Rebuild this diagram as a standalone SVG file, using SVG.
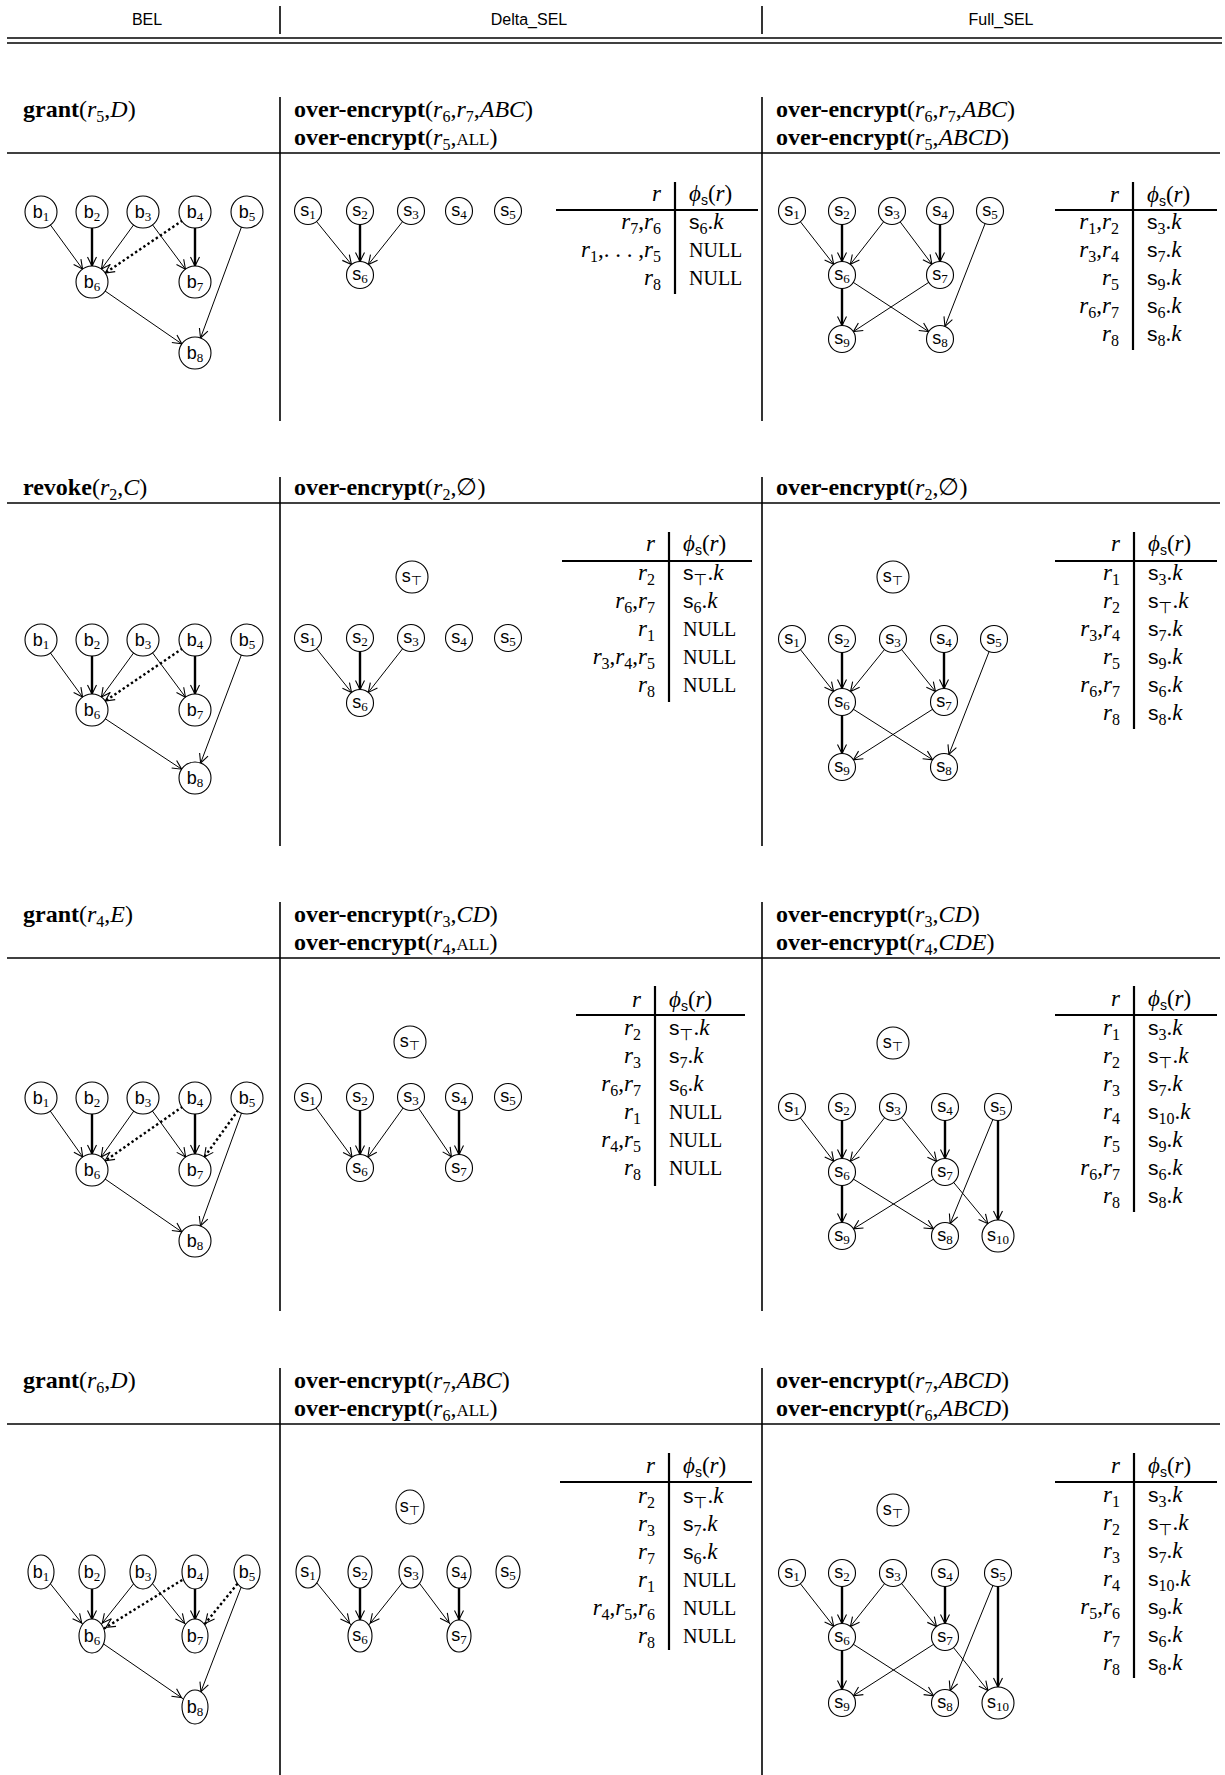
<svg xmlns="http://www.w3.org/2000/svg" width="1225" height="1775" viewBox="0 0 1225 1775">
<defs>
<style>
.ln{stroke:#000;stroke-width:1.6;fill:none}
.tv{stroke:#000;stroke-width:2.2}
.th{stroke:#000;stroke-width:1.8}
.e{stroke:#000;stroke-width:1;fill:none}
.k{stroke-width:2.4}
.d{stroke-width:2.4;stroke-dasharray:2.4 2.6}
.n{fill:#fff;stroke:#000;stroke-width:1.1}
.hd{font-family:"Liberation Sans",sans-serif;font-size:16px;text-anchor:middle}
.lb{font-family:"Liberation Serif","DejaVu Serif",serif;font-size:24px}
.bf{font-weight:bold}
.it{font-style:italic}
.sb{font-size:16px;baseline-shift:-5px}
.sc{font-size:17px}
.nt{font-family:"Liberation Sans",sans-serif;font-size:18px;text-anchor:middle}
.ns{font-family:"Liberation Serif",serif;font-size:13px;baseline-shift:-3px}
.tp{font-family:"DejaVu Sans",sans-serif}
.tt{font-family:"Liberation Serif","DejaVu Serif",serif;font-size:23px}
.tr{text-anchor:end}
.ss{font-family:"Liberation Sans",sans-serif;font-size:21px}
.sx{font-family:"Liberation Sans",sans-serif;font-size:14px;baseline-shift:-4px}
.nu{font-size:20px}
</style>
<marker id="ab" markerUnits="userSpaceOnUse" orient="auto" refX="16" refY="0" markerWidth="30" markerHeight="30" overflow="visible"><path d="M-9,-4.5 L0,0 L-9,4.5" fill="none" stroke="#000" stroke-width="1.1"/></marker>
<marker id="as" markerUnits="userSpaceOnUse" orient="auto" refX="13.5" refY="0" markerWidth="30" markerHeight="30" overflow="visible"><path d="M-9,-4.5 L0,0 L-9,4.5" fill="none" stroke="#000" stroke-width="1.1"/></marker>
<marker id="ae" markerUnits="userSpaceOnUse" orient="auto" refX="16.5" refY="0" markerWidth="30" markerHeight="30" overflow="visible"><path d="M-9,-4.5 L0,0 L-9,4.5" fill="none" stroke="#000" stroke-width="1.1"/></marker>
</defs>
<rect width="1225" height="1775" fill="#fff"/>

<g id="header">
<text class="hd" x="147" y="25">BEL</text>
<text class="hd" x="529" y="25">Delta_SEL</text>
<text class="hd" x="1001" y="25">Full_SEL</text>
<line class="ln" x1="280" y1="6" x2="280" y2="34"/>
<line class="ln" x1="762" y1="6" x2="762" y2="34"/>
<line class="ln" x1="7" y1="38" x2="1222" y2="38"/>
<line class="ln" x1="7" y1="43" x2="1222" y2="43"/>
</g>

<g id="grid">
<line class="ln" x1="7" y1="153" x2="1220" y2="153"/>
<line class="ln" x1="280" y1="97" x2="280" y2="421"/>
<line class="ln" x1="762" y1="97" x2="762" y2="421"/>
<line class="ln" x1="7" y1="503" x2="1220" y2="503"/>
<line class="ln" x1="280" y1="477" x2="280" y2="846"/>
<line class="ln" x1="762" y1="477" x2="762" y2="846"/>
<line class="ln" x1="7" y1="958" x2="1220" y2="958"/>
<line class="ln" x1="280" y1="902" x2="280" y2="1311"/>
<line class="ln" x1="762" y1="902" x2="762" y2="1311"/>
<line class="ln" x1="7" y1="1424" x2="1220" y2="1424"/>
<line class="ln" x1="280" y1="1368" x2="280" y2="1775"/>
<line class="ln" x1="762" y1="1368" x2="762" y2="1775"/>
</g>

<g id="labels">
<text class="lb" x="23" y="117"><tspan class="bf">grant</tspan>(<tspan class="it">r</tspan><tspan class="sb">5</tspan>,<tspan class="it">D</tspan>)</text>
<text class="lb" x="294" y="117"><tspan class="bf">over-encrypt</tspan>(<tspan class="it">r</tspan><tspan class="sb">6</tspan>,<tspan class="it">r</tspan><tspan class="sb">7</tspan>,<tspan class="it">ABC</tspan>)</text>
<text class="lb" x="294" y="145"><tspan class="bf">over-encrypt</tspan>(<tspan class="it">r</tspan><tspan class="sb">5</tspan>,<tspan class="sc">ALL</tspan>)</text>
<text class="lb" x="776" y="117"><tspan class="bf">over-encrypt</tspan>(<tspan class="it">r</tspan><tspan class="sb">6</tspan>,<tspan class="it">r</tspan><tspan class="sb">7</tspan>,<tspan class="it">ABC</tspan>)</text>
<text class="lb" x="776" y="145"><tspan class="bf">over-encrypt</tspan>(<tspan class="it">r</tspan><tspan class="sb">5</tspan>,<tspan class="it">ABCD</tspan>)</text>

<text class="lb" x="23" y="495"><tspan class="bf">revoke</tspan>(<tspan class="it">r</tspan><tspan class="sb">2</tspan>,<tspan class="it">C</tspan>)</text>
<text class="lb" x="294" y="495"><tspan class="bf">over-encrypt</tspan>(<tspan class="it">r</tspan><tspan class="sb">2</tspan>,∅)</text>
<text class="lb" x="776" y="495"><tspan class="bf">over-encrypt</tspan>(<tspan class="it">r</tspan><tspan class="sb">2</tspan>,∅)</text>

<text class="lb" x="23" y="922"><tspan class="bf">grant</tspan>(<tspan class="it">r</tspan><tspan class="sb">4</tspan>,<tspan class="it">E</tspan>)</text>
<text class="lb" x="294" y="922"><tspan class="bf">over-encrypt</tspan>(<tspan class="it">r</tspan><tspan class="sb">3</tspan>,<tspan class="it">CD</tspan>)</text>
<text class="lb" x="294" y="950"><tspan class="bf">over-encrypt</tspan>(<tspan class="it">r</tspan><tspan class="sb">4</tspan>,<tspan class="sc">ALL</tspan>)</text>
<text class="lb" x="776" y="922"><tspan class="bf">over-encrypt</tspan>(<tspan class="it">r</tspan><tspan class="sb">3</tspan>,<tspan class="it">CD</tspan>)</text>
<text class="lb" x="776" y="950"><tspan class="bf">over-encrypt</tspan>(<tspan class="it">r</tspan><tspan class="sb">4</tspan>,<tspan class="it">CDE</tspan>)</text>

<text class="lb" x="23" y="1388"><tspan class="bf">grant</tspan>(<tspan class="it">r</tspan><tspan class="sb">6</tspan>,<tspan class="it">D</tspan>)</text>
<text class="lb" x="294" y="1388"><tspan class="bf">over-encrypt</tspan>(<tspan class="it">r</tspan><tspan class="sb">7</tspan>,<tspan class="it">ABC</tspan>)</text>
<text class="lb" x="294" y="1416"><tspan class="bf">over-encrypt</tspan>(<tspan class="it">r</tspan><tspan class="sb">6</tspan>,<tspan class="sc">ALL</tspan>)</text>
<text class="lb" x="776" y="1388"><tspan class="bf">over-encrypt</tspan>(<tspan class="it">r</tspan><tspan class="sb">7</tspan>,<tspan class="it">ABCD</tspan>)</text>
<text class="lb" x="776" y="1416"><tspan class="bf">over-encrypt</tspan>(<tspan class="it">r</tspan><tspan class="sb">6</tspan>,<tspan class="it">ABCD</tspan>)</text>
</g>

<g id="connectors">
<line class="e" x1="41" y1="212" x2="92" y2="282" marker-end="url(#ab)"/>
<line class="e k" x1="92" y1="212" x2="92" y2="282" marker-end="url(#ab)"/>
<line class="e" x1="143" y1="212" x2="92" y2="282" marker-end="url(#ab)"/>
<line class="e" x1="143" y1="212" x2="195" y2="282" marker-end="url(#ab)"/>
<line class="e d" x1="195" y1="212" x2="92" y2="282" marker-end="url(#ab)"/>
<line class="e k" x1="195" y1="212" x2="195" y2="282" marker-end="url(#ab)"/>
<line class="e" x1="247" y1="212" x2="195" y2="353" marker-end="url(#ab)"/>
<line class="e" x1="92" y1="282" x2="195" y2="353" marker-end="url(#ab)"/>
<line class="e" x1="308" y1="211" x2="360" y2="275" marker-end="url(#as)"/>
<line class="e k" x1="360" y1="211" x2="360" y2="275" marker-end="url(#as)"/>
<line class="e" x1="411" y1="211" x2="360" y2="275" marker-end="url(#as)"/>
<line class="e" x1="792" y1="211" x2="842" y2="275" marker-end="url(#as)"/>
<line class="e k" x1="842" y1="211" x2="842" y2="275" marker-end="url(#as)"/>
<line class="e" x1="892" y1="211" x2="842" y2="275" marker-end="url(#as)"/>
<line class="e" x1="892" y1="211" x2="940" y2="275" marker-end="url(#as)"/>
<line class="e k" x1="940" y1="211" x2="940" y2="275" marker-end="url(#as)"/>
<line class="e" x1="990" y1="211" x2="940" y2="339" marker-end="url(#as)"/>
<line class="e k" x1="842" y1="275" x2="842" y2="339" marker-end="url(#as)"/>
<line class="e" x1="842" y1="275" x2="940" y2="339" marker-end="url(#as)"/>
<line class="e" x1="940" y1="275" x2="842" y2="339" marker-end="url(#as)"/>

<line class="e" x1="41" y1="640" x2="92" y2="710" marker-end="url(#ab)"/>
<line class="e k" x1="92" y1="640" x2="92" y2="710" marker-end="url(#ab)"/>
<line class="e" x1="143" y1="640" x2="92" y2="710" marker-end="url(#ab)"/>
<line class="e" x1="143" y1="640" x2="195" y2="710" marker-end="url(#ab)"/>
<line class="e d" x1="195" y1="640" x2="92" y2="710" marker-end="url(#ab)"/>
<line class="e k" x1="195" y1="640" x2="195" y2="710" marker-end="url(#ab)"/>
<line class="e" x1="247" y1="640" x2="195" y2="778" marker-end="url(#ab)"/>
<line class="e" x1="92" y1="710" x2="195" y2="778" marker-end="url(#ab)"/>
<line class="e" x1="308" y1="638" x2="360" y2="703" marker-end="url(#as)"/>
<line class="e k" x1="360" y1="638" x2="360" y2="703" marker-end="url(#as)"/>
<line class="e" x1="411" y1="638" x2="360" y2="703" marker-end="url(#as)"/>
<line class="e" x1="792" y1="639" x2="842" y2="702" marker-end="url(#as)"/>
<line class="e k" x1="842" y1="639" x2="842" y2="702" marker-end="url(#as)"/>
<line class="e" x1="893" y1="639" x2="842" y2="702" marker-end="url(#as)"/>
<line class="e" x1="893" y1="639" x2="944" y2="702" marker-end="url(#as)"/>
<line class="e k" x1="944" y1="639" x2="944" y2="702" marker-end="url(#as)"/>
<line class="e" x1="994" y1="639" x2="944" y2="767" marker-end="url(#as)"/>
<line class="e k" x1="842" y1="702" x2="842" y2="767" marker-end="url(#as)"/>
<line class="e" x1="842" y1="702" x2="944" y2="767" marker-end="url(#as)"/>
<line class="e" x1="944" y1="702" x2="842" y2="767" marker-end="url(#as)"/>

<line class="e" x1="41" y1="1098" x2="92" y2="1170" marker-end="url(#ab)"/>
<line class="e k" x1="92" y1="1098" x2="92" y2="1170" marker-end="url(#ab)"/>
<line class="e" x1="143" y1="1098" x2="92" y2="1170" marker-end="url(#ab)"/>
<line class="e" x1="143" y1="1098" x2="195" y2="1170" marker-end="url(#ab)"/>
<line class="e d" x1="195" y1="1098" x2="92" y2="1170" marker-end="url(#ab)"/>
<line class="e k" x1="195" y1="1098" x2="195" y2="1170" marker-end="url(#ab)"/>
<line class="e d" x1="247" y1="1098" x2="195" y2="1170" marker-end="url(#ab)"/>
<line class="e" x1="247" y1="1098" x2="195" y2="1241" marker-end="url(#ab)"/>
<line class="e" x1="92" y1="1170" x2="195" y2="1241" marker-end="url(#ab)"/>
<line class="e" x1="308" y1="1097" x2="360" y2="1168" marker-end="url(#as)"/>
<line class="e k" x1="360" y1="1097" x2="360" y2="1168" marker-end="url(#as)"/>
<line class="e" x1="411" y1="1097" x2="360" y2="1168" marker-end="url(#as)"/>
<line class="e" x1="411" y1="1097" x2="459" y2="1168" marker-end="url(#as)"/>
<line class="e k" x1="459" y1="1097" x2="459" y2="1168" marker-end="url(#as)"/>
<line class="e" x1="792" y1="1107" x2="842" y2="1172" marker-end="url(#as)"/>
<line class="e k" x1="842" y1="1107" x2="842" y2="1172" marker-end="url(#as)"/>
<line class="e" x1="893" y1="1107" x2="842" y2="1172" marker-end="url(#as)"/>
<line class="e" x1="893" y1="1107" x2="945" y2="1172" marker-end="url(#as)"/>
<line class="e k" x1="945" y1="1107" x2="945" y2="1172" marker-end="url(#as)"/>
<line class="e" x1="998" y1="1107" x2="945" y2="1236" marker-end="url(#as)"/>
<line class="e k" x1="998" y1="1107" x2="998" y2="1236" marker-end="url(#ab)"/>
<line class="e k" x1="842" y1="1172" x2="842" y2="1236" marker-end="url(#as)"/>
<line class="e" x1="842" y1="1172" x2="945" y2="1236" marker-end="url(#as)"/>
<line class="e" x1="945" y1="1172" x2="842" y2="1236" marker-end="url(#as)"/>
<line class="e" x1="945" y1="1172" x2="998" y2="1236" marker-end="url(#ab)"/>

<line class="e" x1="41" y1="1572" x2="92" y2="1636" marker-end="url(#ae)"/>
<line class="e k" x1="92" y1="1572" x2="92" y2="1636" marker-end="url(#ae)"/>
<line class="e" x1="143" y1="1572" x2="92" y2="1636" marker-end="url(#ae)"/>
<line class="e" x1="143" y1="1572" x2="195" y2="1636" marker-end="url(#ae)"/>
<line class="e d" x1="195" y1="1572" x2="92" y2="1636" marker-end="url(#ae)"/>
<line class="e k" x1="195" y1="1572" x2="195" y2="1636" marker-end="url(#ae)"/>
<line class="e d" x1="247" y1="1572" x2="195" y2="1636" marker-end="url(#ae)"/>
<line class="e" x1="247" y1="1572" x2="195" y2="1707" marker-end="url(#ae)"/>
<line class="e" x1="92" y1="1636" x2="195" y2="1707" marker-end="url(#ae)"/>
<line class="e" x1="308" y1="1572" x2="360" y2="1636" marker-end="url(#ae)"/>
<line class="e k" x1="360" y1="1572" x2="360" y2="1636" marker-end="url(#ae)"/>
<line class="e" x1="411" y1="1572" x2="360" y2="1636" marker-end="url(#ae)"/>
<line class="e" x1="411" y1="1572" x2="459" y2="1636" marker-end="url(#ae)"/>
<line class="e k" x1="459" y1="1572" x2="459" y2="1636" marker-end="url(#ae)"/>
<line class="e" x1="792" y1="1573" x2="842" y2="1637" marker-end="url(#as)"/>
<line class="e k" x1="842" y1="1573" x2="842" y2="1637" marker-end="url(#as)"/>
<line class="e" x1="893" y1="1573" x2="842" y2="1637" marker-end="url(#as)"/>
<line class="e" x1="893" y1="1573" x2="945" y2="1637" marker-end="url(#as)"/>
<line class="e k" x1="945" y1="1573" x2="945" y2="1637" marker-end="url(#as)"/>
<line class="e" x1="998" y1="1573" x2="945" y2="1703" marker-end="url(#as)"/>
<line class="e k" x1="998" y1="1573" x2="998" y2="1703" marker-end="url(#ab)"/>
<line class="e k" x1="842" y1="1637" x2="842" y2="1703" marker-end="url(#as)"/>
<line class="e" x1="842" y1="1637" x2="945" y2="1703" marker-end="url(#as)"/>
<line class="e" x1="945" y1="1637" x2="842" y2="1703" marker-end="url(#as)"/>
<line class="e" x1="945" y1="1637" x2="998" y2="1703" marker-end="url(#ab)"/>
</g>

<g id="r1-b1"><circle class="n" cx="41" cy="212" r="16"/><text class="nt" x="41" y="218">b<tspan class="ns">1</tspan></text></g>
<g id="r1-b2"><circle class="n" cx="92" cy="212" r="16"/><text class="nt" x="92" y="218">b<tspan class="ns">2</tspan></text></g>
<g id="r1-b3"><circle class="n" cx="143" cy="212" r="16"/><text class="nt" x="143" y="218">b<tspan class="ns">3</tspan></text></g>
<g id="r1-b4"><circle class="n" cx="195" cy="212" r="16"/><text class="nt" x="195" y="218">b<tspan class="ns">4</tspan></text></g>
<g id="r1-b5"><circle class="n" cx="247" cy="212" r="16"/><text class="nt" x="247" y="218">b<tspan class="ns">5</tspan></text></g>
<g id="r1-b6"><circle class="n" cx="92" cy="282" r="16"/><text class="nt" x="92" y="288">b<tspan class="ns">6</tspan></text></g>
<g id="r1-b7"><circle class="n" cx="195" cy="282" r="16"/><text class="nt" x="195" y="288">b<tspan class="ns">7</tspan></text></g>
<g id="r1-b8"><circle class="n" cx="195" cy="353" r="16"/><text class="nt" x="195" y="359">b<tspan class="ns">8</tspan></text></g>
<g id="r1d-s1"><circle class="n" cx="308" cy="211" r="13.5"/><text class="nt" x="308" y="216">s<tspan class="ns">1</tspan></text></g>
<g id="r1d-s2"><circle class="n" cx="360" cy="211" r="13.5"/><text class="nt" x="360" y="216">s<tspan class="ns">2</tspan></text></g>
<g id="r1d-s3"><circle class="n" cx="411" cy="211" r="13.5"/><text class="nt" x="411" y="216">s<tspan class="ns">3</tspan></text></g>
<g id="r1d-s4"><circle class="n" cx="459" cy="211" r="13.5"/><text class="nt" x="459" y="216">s<tspan class="ns">4</tspan></text></g>
<g id="r1d-s5"><circle class="n" cx="508" cy="211" r="13.5"/><text class="nt" x="508" y="216">s<tspan class="ns">5</tspan></text></g>
<g id="r1d-s6"><circle class="n" cx="360" cy="275" r="13.5"/><text class="nt" x="360" y="280">s<tspan class="ns">6</tspan></text></g>
<g id="r1f-s1"><circle class="n" cx="792" cy="211" r="13.5"/><text class="nt" x="792" y="216">s<tspan class="ns">1</tspan></text></g>
<g id="r1f-s2"><circle class="n" cx="842" cy="211" r="13.5"/><text class="nt" x="842" y="216">s<tspan class="ns">2</tspan></text></g>
<g id="r1f-s3"><circle class="n" cx="892" cy="211" r="13.5"/><text class="nt" x="892" y="216">s<tspan class="ns">3</tspan></text></g>
<g id="r1f-s4"><circle class="n" cx="940" cy="211" r="13.5"/><text class="nt" x="940" y="216">s<tspan class="ns">4</tspan></text></g>
<g id="r1f-s5"><circle class="n" cx="990" cy="211" r="13.5"/><text class="nt" x="990" y="216">s<tspan class="ns">5</tspan></text></g>
<g id="r1f-s6"><circle class="n" cx="842" cy="275" r="13.5"/><text class="nt" x="842" y="280">s<tspan class="ns">6</tspan></text></g>
<g id="r1f-s7"><circle class="n" cx="940" cy="275" r="13.5"/><text class="nt" x="940" y="280">s<tspan class="ns">7</tspan></text></g>
<g id="r1f-s9"><circle class="n" cx="842" cy="339" r="13.5"/><text class="nt" x="842" y="344">s<tspan class="ns">9</tspan></text></g>
<g id="r1f-s8"><circle class="n" cx="940" cy="339" r="13.5"/><text class="nt" x="940" y="344">s<tspan class="ns">8</tspan></text></g>

<g id="r2-b1"><circle class="n" cx="41" cy="640" r="16"/><text class="nt" x="41" y="646">b<tspan class="ns">1</tspan></text></g>
<g id="r2-b2"><circle class="n" cx="92" cy="640" r="16"/><text class="nt" x="92" y="646">b<tspan class="ns">2</tspan></text></g>
<g id="r2-b3"><circle class="n" cx="143" cy="640" r="16"/><text class="nt" x="143" y="646">b<tspan class="ns">3</tspan></text></g>
<g id="r2-b4"><circle class="n" cx="195" cy="640" r="16"/><text class="nt" x="195" y="646">b<tspan class="ns">4</tspan></text></g>
<g id="r2-b5"><circle class="n" cx="247" cy="640" r="16"/><text class="nt" x="247" y="646">b<tspan class="ns">5</tspan></text></g>
<g id="r2-b6"><circle class="n" cx="92" cy="710" r="16"/><text class="nt" x="92" y="716">b<tspan class="ns">6</tspan></text></g>
<g id="r2-b7"><circle class="n" cx="195" cy="710" r="16"/><text class="nt" x="195" y="716">b<tspan class="ns">7</tspan></text></g>
<g id="r2-b8"><circle class="n" cx="195" cy="778" r="16"/><text class="nt" x="195" y="784">b<tspan class="ns">8</tspan></text></g>
<g id="r2d-st"><circle class="n" cx="412" cy="577" r="16"/><text class="nt" x="412" y="582">s<tspan class="ns tp">⊤</tspan></text></g>
<g id="r2d-s1"><circle class="n" cx="308" cy="638" r="13.5"/><text class="nt" x="308" y="643">s<tspan class="ns">1</tspan></text></g>
<g id="r2d-s2"><circle class="n" cx="360" cy="638" r="13.5"/><text class="nt" x="360" y="643">s<tspan class="ns">2</tspan></text></g>
<g id="r2d-s3"><circle class="n" cx="411" cy="638" r="13.5"/><text class="nt" x="411" y="643">s<tspan class="ns">3</tspan></text></g>
<g id="r2d-s4"><circle class="n" cx="459" cy="638" r="13.5"/><text class="nt" x="459" y="643">s<tspan class="ns">4</tspan></text></g>
<g id="r2d-s5"><circle class="n" cx="508" cy="638" r="13.5"/><text class="nt" x="508" y="643">s<tspan class="ns">5</tspan></text></g>
<g id="r2d-s6"><circle class="n" cx="360" cy="703" r="13.5"/><text class="nt" x="360" y="708">s<tspan class="ns">6</tspan></text></g>
<g id="r2f-st"><circle class="n" cx="893" cy="577" r="16"/><text class="nt" x="893" y="582">s<tspan class="ns tp">⊤</tspan></text></g>
<g id="r2f-s1"><circle class="n" cx="792" cy="639" r="13.5"/><text class="nt" x="792" y="644">s<tspan class="ns">1</tspan></text></g>
<g id="r2f-s2"><circle class="n" cx="842" cy="639" r="13.5"/><text class="nt" x="842" y="644">s<tspan class="ns">2</tspan></text></g>
<g id="r2f-s3"><circle class="n" cx="893" cy="639" r="13.5"/><text class="nt" x="893" y="644">s<tspan class="ns">3</tspan></text></g>
<g id="r2f-s4"><circle class="n" cx="944" cy="639" r="13.5"/><text class="nt" x="944" y="644">s<tspan class="ns">4</tspan></text></g>
<g id="r2f-s5"><circle class="n" cx="994" cy="639" r="13.5"/><text class="nt" x="994" y="644">s<tspan class="ns">5</tspan></text></g>
<g id="r2f-s6"><circle class="n" cx="842" cy="702" r="13.5"/><text class="nt" x="842" y="707">s<tspan class="ns">6</tspan></text></g>
<g id="r2f-s7"><circle class="n" cx="944" cy="702" r="13.5"/><text class="nt" x="944" y="707">s<tspan class="ns">7</tspan></text></g>
<g id="r2f-s9"><circle class="n" cx="842" cy="767" r="13.5"/><text class="nt" x="842" y="772">s<tspan class="ns">9</tspan></text></g>
<g id="r2f-s8"><circle class="n" cx="944" cy="767" r="13.5"/><text class="nt" x="944" y="772">s<tspan class="ns">8</tspan></text></g>

<g id="r3-b1"><circle class="n" cx="41" cy="1098" r="16"/><text class="nt" x="41" y="1104">b<tspan class="ns">1</tspan></text></g>
<g id="r3-b2"><circle class="n" cx="92" cy="1098" r="16"/><text class="nt" x="92" y="1104">b<tspan class="ns">2</tspan></text></g>
<g id="r3-b3"><circle class="n" cx="143" cy="1098" r="16"/><text class="nt" x="143" y="1104">b<tspan class="ns">3</tspan></text></g>
<g id="r3-b4"><circle class="n" cx="195" cy="1098" r="16"/><text class="nt" x="195" y="1104">b<tspan class="ns">4</tspan></text></g>
<g id="r3-b5"><circle class="n" cx="247" cy="1098" r="16"/><text class="nt" x="247" y="1104">b<tspan class="ns">5</tspan></text></g>
<g id="r3-b6"><circle class="n" cx="92" cy="1170" r="16"/><text class="nt" x="92" y="1176">b<tspan class="ns">6</tspan></text></g>
<g id="r3-b7"><circle class="n" cx="195" cy="1170" r="16"/><text class="nt" x="195" y="1176">b<tspan class="ns">7</tspan></text></g>
<g id="r3-b8"><circle class="n" cx="195" cy="1241" r="16"/><text class="nt" x="195" y="1247">b<tspan class="ns">8</tspan></text></g>
<g id="r3d-st"><circle class="n" cx="410" cy="1042" r="16"/><text class="nt" x="410" y="1047">s<tspan class="ns tp">⊤</tspan></text></g>
<g id="r3d-s1"><circle class="n" cx="308" cy="1097" r="13.5"/><text class="nt" x="308" y="1102">s<tspan class="ns">1</tspan></text></g>
<g id="r3d-s2"><circle class="n" cx="360" cy="1097" r="13.5"/><text class="nt" x="360" y="1102">s<tspan class="ns">2</tspan></text></g>
<g id="r3d-s3"><circle class="n" cx="411" cy="1097" r="13.5"/><text class="nt" x="411" y="1102">s<tspan class="ns">3</tspan></text></g>
<g id="r3d-s4"><circle class="n" cx="459" cy="1097" r="13.5"/><text class="nt" x="459" y="1102">s<tspan class="ns">4</tspan></text></g>
<g id="r3d-s5"><circle class="n" cx="508" cy="1097" r="13.5"/><text class="nt" x="508" y="1102">s<tspan class="ns">5</tspan></text></g>
<g id="r3d-s6"><circle class="n" cx="360" cy="1168" r="13.5"/><text class="nt" x="360" y="1173">s<tspan class="ns">6</tspan></text></g>
<g id="r3d-s7"><circle class="n" cx="459" cy="1168" r="13.5"/><text class="nt" x="459" y="1173">s<tspan class="ns">7</tspan></text></g>
<g id="r3f-st"><circle class="n" cx="893" cy="1043" r="16"/><text class="nt" x="893" y="1048">s<tspan class="ns tp">⊤</tspan></text></g>
<g id="r3f-s1"><circle class="n" cx="792" cy="1107" r="13.5"/><text class="nt" x="792" y="1112">s<tspan class="ns">1</tspan></text></g>
<g id="r3f-s2"><circle class="n" cx="842" cy="1107" r="13.5"/><text class="nt" x="842" y="1112">s<tspan class="ns">2</tspan></text></g>
<g id="r3f-s3"><circle class="n" cx="893" cy="1107" r="13.5"/><text class="nt" x="893" y="1112">s<tspan class="ns">3</tspan></text></g>
<g id="r3f-s4"><circle class="n" cx="945" cy="1107" r="13.5"/><text class="nt" x="945" y="1112">s<tspan class="ns">4</tspan></text></g>
<g id="r3f-s5"><circle class="n" cx="998" cy="1107" r="13.5"/><text class="nt" x="998" y="1112">s<tspan class="ns">5</tspan></text></g>
<g id="r3f-s6"><circle class="n" cx="842" cy="1172" r="13.5"/><text class="nt" x="842" y="1177">s<tspan class="ns">6</tspan></text></g>
<g id="r3f-s7"><circle class="n" cx="945" cy="1172" r="13.5"/><text class="nt" x="945" y="1177">s<tspan class="ns">7</tspan></text></g>
<g id="r3f-s9"><circle class="n" cx="842" cy="1236" r="13.5"/><text class="nt" x="842" y="1241">s<tspan class="ns">9</tspan></text></g>
<g id="r3f-s8"><circle class="n" cx="945" cy="1236" r="13.5"/><text class="nt" x="945" y="1241">s<tspan class="ns">8</tspan></text></g>
<g id="r3f-s10"><circle class="n" cx="998" cy="1236" r="16"/><text class="nt" x="998" y="1241">s<tspan class="ns">10</tspan></text></g>

<g id="r4-b1"><ellipse class="n" cx="41" cy="1572" rx="13" ry="17"/><text class="nt" x="41" y="1578">b<tspan class="ns">1</tspan></text></g>
<g id="r4-b2"><ellipse class="n" cx="92" cy="1572" rx="13" ry="17"/><text class="nt" x="92" y="1578">b<tspan class="ns">2</tspan></text></g>
<g id="r4-b3"><ellipse class="n" cx="143" cy="1572" rx="13" ry="17"/><text class="nt" x="143" y="1578">b<tspan class="ns">3</tspan></text></g>
<g id="r4-b4"><ellipse class="n" cx="195" cy="1572" rx="13" ry="17"/><text class="nt" x="195" y="1578">b<tspan class="ns">4</tspan></text></g>
<g id="r4-b5"><ellipse class="n" cx="247" cy="1572" rx="13" ry="17"/><text class="nt" x="247" y="1578">b<tspan class="ns">5</tspan></text></g>
<g id="r4-b6"><ellipse class="n" cx="92" cy="1636" rx="13" ry="17"/><text class="nt" x="92" y="1642">b<tspan class="ns">6</tspan></text></g>
<g id="r4-b7"><ellipse class="n" cx="195" cy="1636" rx="13" ry="17"/><text class="nt" x="195" y="1642">b<tspan class="ns">7</tspan></text></g>
<g id="r4-b8"><ellipse class="n" cx="195" cy="1707" rx="13" ry="17"/><text class="nt" x="195" y="1713">b<tspan class="ns">8</tspan></text></g>
<g id="r4d-st"><ellipse class="n" cx="410" cy="1507" rx="14" ry="17"/><text class="nt" x="410" y="1512">s<tspan class="ns tp">⊤</tspan></text></g>
<g id="r4d-s1"><ellipse class="n" cx="308" cy="1572" rx="12" ry="16"/><text class="nt" x="308" y="1577">s<tspan class="ns">1</tspan></text></g>
<g id="r4d-s2"><ellipse class="n" cx="360" cy="1572" rx="12" ry="16"/><text class="nt" x="360" y="1577">s<tspan class="ns">2</tspan></text></g>
<g id="r4d-s3"><ellipse class="n" cx="411" cy="1572" rx="12" ry="16"/><text class="nt" x="411" y="1577">s<tspan class="ns">3</tspan></text></g>
<g id="r4d-s4"><ellipse class="n" cx="459" cy="1572" rx="12" ry="16"/><text class="nt" x="459" y="1577">s<tspan class="ns">4</tspan></text></g>
<g id="r4d-s5"><ellipse class="n" cx="508" cy="1572" rx="12" ry="16"/><text class="nt" x="508" y="1577">s<tspan class="ns">5</tspan></text></g>
<g id="r4d-s6"><ellipse class="n" cx="360" cy="1636" rx="12" ry="16"/><text class="nt" x="360" y="1641">s<tspan class="ns">6</tspan></text></g>
<g id="r4d-s7"><ellipse class="n" cx="459" cy="1636" rx="12" ry="16"/><text class="nt" x="459" y="1641">s<tspan class="ns">7</tspan></text></g>
<g id="r4f-st"><circle class="n" cx="893" cy="1510" r="16"/><text class="nt" x="893" y="1515">s<tspan class="ns tp">⊤</tspan></text></g>
<g id="r4f-s1"><circle class="n" cx="792" cy="1573" r="13.5"/><text class="nt" x="792" y="1578">s<tspan class="ns">1</tspan></text></g>
<g id="r4f-s2"><circle class="n" cx="842" cy="1573" r="13.5"/><text class="nt" x="842" y="1578">s<tspan class="ns">2</tspan></text></g>
<g id="r4f-s3"><circle class="n" cx="893" cy="1573" r="13.5"/><text class="nt" x="893" y="1578">s<tspan class="ns">3</tspan></text></g>
<g id="r4f-s4"><circle class="n" cx="945" cy="1573" r="13.5"/><text class="nt" x="945" y="1578">s<tspan class="ns">4</tspan></text></g>
<g id="r4f-s5"><circle class="n" cx="998" cy="1573" r="13.5"/><text class="nt" x="998" y="1578">s<tspan class="ns">5</tspan></text></g>
<g id="r4f-s6"><circle class="n" cx="842" cy="1637" r="13.5"/><text class="nt" x="842" y="1642">s<tspan class="ns">6</tspan></text></g>
<g id="r4f-s7"><circle class="n" cx="945" cy="1637" r="13.5"/><text class="nt" x="945" y="1642">s<tspan class="ns">7</tspan></text></g>
<g id="r4f-s9"><circle class="n" cx="842" cy="1703" r="13.5"/><text class="nt" x="842" y="1708">s<tspan class="ns">9</tspan></text></g>
<g id="r4f-s8"><circle class="n" cx="945" cy="1703" r="13.5"/><text class="nt" x="945" y="1708">s<tspan class="ns">8</tspan></text></g>
<g id="r4f-s10"><circle class="n" cx="998" cy="1703" r="16"/><text class="nt" x="998" y="1708">s<tspan class="ns">10</tspan></text></g>

<g id="t1d" class="tt">
<line class="tv" x1="675" y1="182" x2="675" y2="294"/><line class="th" x1="556" y1="210" x2="758" y2="210"/>
<text class="tr it" x="661" y="201">r</text><text x="689" y="201"><tspan class="it">ϕ</tspan><tspan class="sx">s</tspan>(<tspan class="it">r</tspan>)</text>
<text class="tr" x="661" y="229"><tspan class="it">r</tspan><tspan class="sb">7</tspan>,<tspan class="it">r</tspan><tspan class="sb">6</tspan></text><text x="689" y="229"><tspan class="ss">s</tspan><tspan class="sb">6</tspan>.<tspan class="it">k</tspan></text>
<text class="tr" x="661" y="257"><tspan class="it">r</tspan><tspan class="sb">1</tspan>,. . . ,<tspan class="it">r</tspan><tspan class="sb">5</tspan></text><text class="nu" x="689" y="257">NULL</text>
<text class="tr" x="661" y="285"><tspan class="it">r</tspan><tspan class="sb">8</tspan></text><text class="nu" x="689" y="285">NULL</text>
</g>
<g id="t1f" class="tt">
<line class="tv" x1="1133" y1="182" x2="1133" y2="350"/><line class="th" x1="1055" y1="210" x2="1217" y2="210"/>
<text class="tr it" x="1119" y="202">r</text><text x="1147" y="202"><tspan class="it">ϕ</tspan><tspan class="sx">s</tspan>(<tspan class="it">r</tspan>)</text>
<text class="tr" x="1119" y="229"><tspan class="it">r</tspan><tspan class="sb">1</tspan>,<tspan class="it">r</tspan><tspan class="sb">2</tspan></text><text x="1147" y="229"><tspan class="ss">s</tspan><tspan class="sb">3</tspan>.<tspan class="it">k</tspan></text>
<text class="tr" x="1119" y="257"><tspan class="it">r</tspan><tspan class="sb">3</tspan>,<tspan class="it">r</tspan><tspan class="sb">4</tspan></text><text x="1147" y="257"><tspan class="ss">s</tspan><tspan class="sb">7</tspan>.<tspan class="it">k</tspan></text>
<text class="tr" x="1119" y="285"><tspan class="it">r</tspan><tspan class="sb">5</tspan></text><text x="1147" y="285"><tspan class="ss">s</tspan><tspan class="sb">9</tspan>.<tspan class="it">k</tspan></text>
<text class="tr" x="1119" y="313"><tspan class="it">r</tspan><tspan class="sb">6</tspan>,<tspan class="it">r</tspan><tspan class="sb">7</tspan></text><text x="1147" y="313"><tspan class="ss">s</tspan><tspan class="sb">6</tspan>.<tspan class="it">k</tspan></text>
<text class="tr" x="1119" y="341"><tspan class="it">r</tspan><tspan class="sb">8</tspan></text><text x="1147" y="341"><tspan class="ss">s</tspan><tspan class="sb">8</tspan>.<tspan class="it">k</tspan></text>
</g>

<g id="t2d" class="tt">
<line class="tv" x1="669" y1="532" x2="669" y2="702"/><line class="th" x1="562" y1="561" x2="752" y2="561"/>
<text class="tr it" x="655" y="551">r</text><text x="683" y="551"><tspan class="it">ϕ</tspan><tspan class="sx">s</tspan>(<tspan class="it">r</tspan>)</text>
<text class="tr" x="655" y="580"><tspan class="it">r</tspan><tspan class="sb">2</tspan></text><text x="683" y="580"><tspan class="ss">s</tspan><tspan class="sb tp">⊤</tspan>.<tspan class="it">k</tspan></text>
<text class="tr" x="655" y="608"><tspan class="it">r</tspan><tspan class="sb">6</tspan>,<tspan class="it">r</tspan><tspan class="sb">7</tspan></text><text x="683" y="608"><tspan class="ss">s</tspan><tspan class="sb">6</tspan>.<tspan class="it">k</tspan></text>
<text class="tr" x="655" y="636"><tspan class="it">r</tspan><tspan class="sb">1</tspan></text><text class="nu" x="683" y="636">NULL</text>
<text class="tr" x="655" y="664"><tspan class="it">r</tspan><tspan class="sb">3</tspan>,<tspan class="it">r</tspan><tspan class="sb">4</tspan>,<tspan class="it">r</tspan><tspan class="sb">5</tspan></text><text class="nu" x="683" y="664">NULL</text>
<text class="tr" x="655" y="692"><tspan class="it">r</tspan><tspan class="sb">8</tspan></text><text class="nu" x="683" y="692">NULL</text>
</g>
<g id="t2f" class="tt">
<line class="tv" x1="1134" y1="532" x2="1134" y2="729"/><line class="th" x1="1055" y1="561" x2="1217" y2="561"/>
<text class="tr it" x="1120" y="551">r</text><text x="1148" y="551"><tspan class="it">ϕ</tspan><tspan class="sx">s</tspan>(<tspan class="it">r</tspan>)</text>
<text class="tr" x="1120" y="580"><tspan class="it">r</tspan><tspan class="sb">1</tspan></text><text x="1148" y="580"><tspan class="ss">s</tspan><tspan class="sb">3</tspan>.<tspan class="it">k</tspan></text>
<text class="tr" x="1120" y="608"><tspan class="it">r</tspan><tspan class="sb">2</tspan></text><text x="1148" y="608"><tspan class="ss">s</tspan><tspan class="sb tp">⊤</tspan>.<tspan class="it">k</tspan></text>
<text class="tr" x="1120" y="636"><tspan class="it">r</tspan><tspan class="sb">3</tspan>,<tspan class="it">r</tspan><tspan class="sb">4</tspan></text><text x="1148" y="636"><tspan class="ss">s</tspan><tspan class="sb">7</tspan>.<tspan class="it">k</tspan></text>
<text class="tr" x="1120" y="664"><tspan class="it">r</tspan><tspan class="sb">5</tspan></text><text x="1148" y="664"><tspan class="ss">s</tspan><tspan class="sb">9</tspan>.<tspan class="it">k</tspan></text>
<text class="tr" x="1120" y="692"><tspan class="it">r</tspan><tspan class="sb">6</tspan>,<tspan class="it">r</tspan><tspan class="sb">7</tspan></text><text x="1148" y="692"><tspan class="ss">s</tspan><tspan class="sb">6</tspan>.<tspan class="it">k</tspan></text>
<text class="tr" x="1120" y="720"><tspan class="it">r</tspan><tspan class="sb">8</tspan></text><text x="1148" y="720"><tspan class="ss">s</tspan><tspan class="sb">8</tspan>.<tspan class="it">k</tspan></text>
</g>

<g id="t3d" class="tt">
<line class="tv" x1="655" y1="986" x2="655" y2="1186"/><line class="th" x1="576" y1="1015" x2="745" y2="1015"/>
<text class="tr it" x="641" y="1007">r</text><text x="669" y="1007"><tspan class="it">ϕ</tspan><tspan class="sx">s</tspan>(<tspan class="it">r</tspan>)</text>
<text class="tr" x="641" y="1035"><tspan class="it">r</tspan><tspan class="sb">2</tspan></text><text x="669" y="1035"><tspan class="ss">s</tspan><tspan class="sb tp">⊤</tspan>.<tspan class="it">k</tspan></text>
<text class="tr" x="641" y="1063"><tspan class="it">r</tspan><tspan class="sb">3</tspan></text><text x="669" y="1063"><tspan class="ss">s</tspan><tspan class="sb">7</tspan>.<tspan class="it">k</tspan></text>
<text class="tr" x="641" y="1091"><tspan class="it">r</tspan><tspan class="sb">6</tspan>,<tspan class="it">r</tspan><tspan class="sb">7</tspan></text><text x="669" y="1091"><tspan class="ss">s</tspan><tspan class="sb">6</tspan>.<tspan class="it">k</tspan></text>
<text class="tr" x="641" y="1119"><tspan class="it">r</tspan><tspan class="sb">1</tspan></text><text class="nu" x="669" y="1119">NULL</text>
<text class="tr" x="641" y="1147"><tspan class="it">r</tspan><tspan class="sb">4</tspan>,<tspan class="it">r</tspan><tspan class="sb">5</tspan></text><text class="nu" x="669" y="1147">NULL</text>
<text class="tr" x="641" y="1175"><tspan class="it">r</tspan><tspan class="sb">8</tspan></text><text class="nu" x="669" y="1175">NULL</text>
</g>
<g id="t3f" class="tt">
<line class="tv" x1="1134" y1="986" x2="1134" y2="1212"/><line class="th" x1="1055" y1="1015" x2="1217" y2="1015"/>
<text class="tr it" x="1120" y="1006">r</text><text x="1148" y="1006"><tspan class="it">ϕ</tspan><tspan class="sx">s</tspan>(<tspan class="it">r</tspan>)</text>
<text class="tr" x="1120" y="1035"><tspan class="it">r</tspan><tspan class="sb">1</tspan></text><text x="1148" y="1035"><tspan class="ss">s</tspan><tspan class="sb">3</tspan>.<tspan class="it">k</tspan></text>
<text class="tr" x="1120" y="1063"><tspan class="it">r</tspan><tspan class="sb">2</tspan></text><text x="1148" y="1063"><tspan class="ss">s</tspan><tspan class="sb tp">⊤</tspan>.<tspan class="it">k</tspan></text>
<text class="tr" x="1120" y="1091"><tspan class="it">r</tspan><tspan class="sb">3</tspan></text><text x="1148" y="1091"><tspan class="ss">s</tspan><tspan class="sb">7</tspan>.<tspan class="it">k</tspan></text>
<text class="tr" x="1120" y="1119"><tspan class="it">r</tspan><tspan class="sb">4</tspan></text><text x="1148" y="1119"><tspan class="ss">s</tspan><tspan class="sb">10</tspan>.<tspan class="it">k</tspan></text>
<text class="tr" x="1120" y="1147"><tspan class="it">r</tspan><tspan class="sb">5</tspan></text><text x="1148" y="1147"><tspan class="ss">s</tspan><tspan class="sb">9</tspan>.<tspan class="it">k</tspan></text>
<text class="tr" x="1120" y="1175"><tspan class="it">r</tspan><tspan class="sb">6</tspan>,<tspan class="it">r</tspan><tspan class="sb">7</tspan></text><text x="1148" y="1175"><tspan class="ss">s</tspan><tspan class="sb">6</tspan>.<tspan class="it">k</tspan></text>
<text class="tr" x="1120" y="1203"><tspan class="it">r</tspan><tspan class="sb">8</tspan></text><text x="1148" y="1203"><tspan class="ss">s</tspan><tspan class="sb">8</tspan>.<tspan class="it">k</tspan></text>
</g>

<g id="t4d" class="tt">
<line class="tv" x1="669" y1="1453" x2="669" y2="1650"/><line class="th" x1="560" y1="1482" x2="752" y2="1482"/>
<text class="tr it" x="655" y="1473">r</text><text x="683" y="1473"><tspan class="it">ϕ</tspan><tspan class="sx">s</tspan>(<tspan class="it">r</tspan>)</text>
<text class="tr" x="655" y="1503"><tspan class="it">r</tspan><tspan class="sb">2</tspan></text><text x="683" y="1503"><tspan class="ss">s</tspan><tspan class="sb tp">⊤</tspan>.<tspan class="it">k</tspan></text>
<text class="tr" x="655" y="1531"><tspan class="it">r</tspan><tspan class="sb">3</tspan></text><text x="683" y="1531"><tspan class="ss">s</tspan><tspan class="sb">7</tspan>.<tspan class="it">k</tspan></text>
<text class="tr" x="655" y="1559"><tspan class="it">r</tspan><tspan class="sb">7</tspan></text><text x="683" y="1559"><tspan class="ss">s</tspan><tspan class="sb">6</tspan>.<tspan class="it">k</tspan></text>
<text class="tr" x="655" y="1587"><tspan class="it">r</tspan><tspan class="sb">1</tspan></text><text class="nu" x="683" y="1587">NULL</text>
<text class="tr" x="655" y="1615"><tspan class="it">r</tspan><tspan class="sb">4</tspan>,<tspan class="it">r</tspan><tspan class="sb">5</tspan>,<tspan class="it">r</tspan><tspan class="sb">6</tspan></text><text class="nu" x="683" y="1615">NULL</text>
<text class="tr" x="655" y="1643"><tspan class="it">r</tspan><tspan class="sb">8</tspan></text><text class="nu" x="683" y="1643">NULL</text>
</g>
<g id="t4f" class="tt">
<line class="tv" x1="1134" y1="1453" x2="1134" y2="1678"/><line class="th" x1="1055" y1="1482" x2="1217" y2="1482"/>
<text class="tr it" x="1120" y="1473">r</text><text x="1148" y="1473"><tspan class="it">ϕ</tspan><tspan class="sx">s</tspan>(<tspan class="it">r</tspan>)</text>
<text class="tr" x="1120" y="1502"><tspan class="it">r</tspan><tspan class="sb">1</tspan></text><text x="1148" y="1502"><tspan class="ss">s</tspan><tspan class="sb">3</tspan>.<tspan class="it">k</tspan></text>
<text class="tr" x="1120" y="1530"><tspan class="it">r</tspan><tspan class="sb">2</tspan></text><text x="1148" y="1530"><tspan class="ss">s</tspan><tspan class="sb tp">⊤</tspan>.<tspan class="it">k</tspan></text>
<text class="tr" x="1120" y="1558"><tspan class="it">r</tspan><tspan class="sb">3</tspan></text><text x="1148" y="1558"><tspan class="ss">s</tspan><tspan class="sb">7</tspan>.<tspan class="it">k</tspan></text>
<text class="tr" x="1120" y="1586"><tspan class="it">r</tspan><tspan class="sb">4</tspan></text><text x="1148" y="1586"><tspan class="ss">s</tspan><tspan class="sb">10</tspan>.<tspan class="it">k</tspan></text>
<text class="tr" x="1120" y="1614"><tspan class="it">r</tspan><tspan class="sb">5</tspan>,<tspan class="it">r</tspan><tspan class="sb">6</tspan></text><text x="1148" y="1614"><tspan class="ss">s</tspan><tspan class="sb">9</tspan>.<tspan class="it">k</tspan></text>
<text class="tr" x="1120" y="1642"><tspan class="it">r</tspan><tspan class="sb">7</tspan></text><text x="1148" y="1642"><tspan class="ss">s</tspan><tspan class="sb">6</tspan>.<tspan class="it">k</tspan></text>
<text class="tr" x="1120" y="1670"><tspan class="it">r</tspan><tspan class="sb">8</tspan></text><text x="1148" y="1670"><tspan class="ss">s</tspan><tspan class="sb">8</tspan>.<tspan class="it">k</tspan></text>
</g>
</svg>
